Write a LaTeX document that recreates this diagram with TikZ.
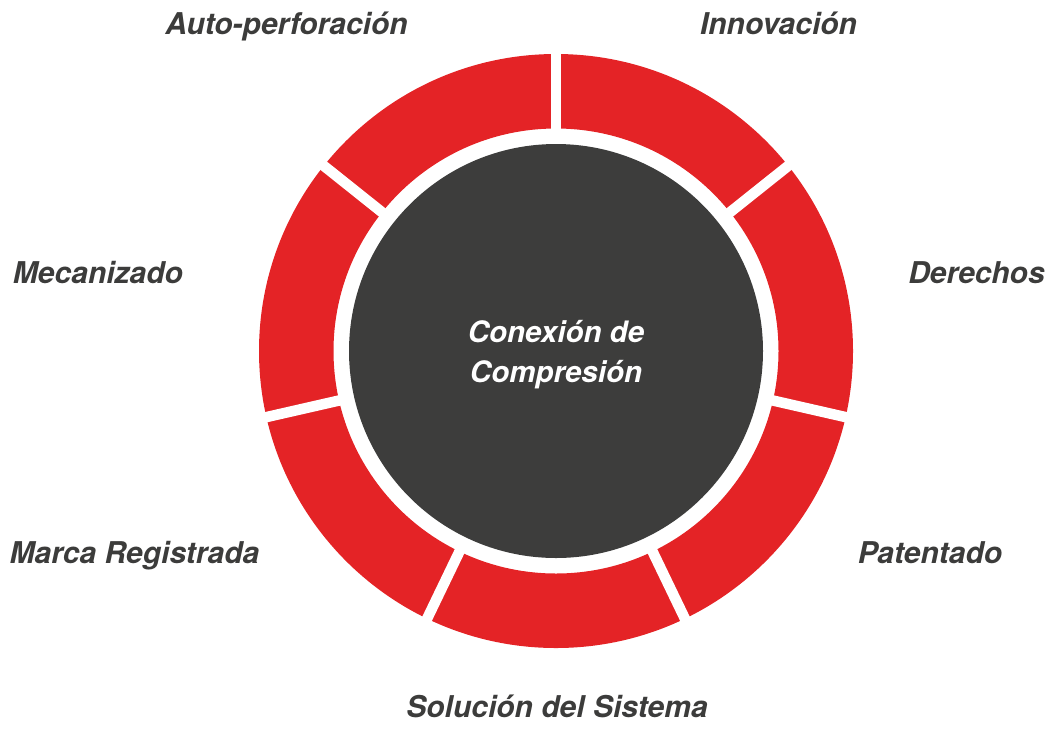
\documentclass[tikz,border=0pt]{standalone}
\usepackage{fontspec}
\setmainfont{TeX Gyre Heros}
\usetikzlibrary{calc}
\definecolor{ringred}{HTML}{E42326}
\definecolor{coredark}{HTML}{3D3D3C}
\definecolor{labelgray}{HTML}{3C3C3B}
\begin{document}
\begin{tikzpicture}[x=1pt,y=-1pt,
  lbl/.style={anchor=base,inner sep=0pt,text=labelgray,font=\fontsize{30}{36}\selectfont\bfseries\itshape},
  gapline/.style={draw=white,line width=10.5pt}]
\useasboundingbox (0,0) rectangle (1051,729);
\coordinate (c) at (556,351);
% red ring
\fill[ringred,even odd rule] (c) circle[radius=297] (c) circle[radius=222.5];
% white gaps
\foreach \k in {0,...,6}{
  \draw[gapline] ($(c)+({-90+\k*360/7}:212)$) -- ($(c)+({-90+\k*360/7}:305)$);
}
% core
\fill[coredark] (c) circle[radius=207];
\node[anchor=base,inner sep=0pt,text=white,align=center,
      font=\fontsize{29.5}{40}\selectfont\bfseries\itshape] (core) at (556,382) {Conexión de\\Compresión};
% labels
\node[lbl] (l1) at (286.5,34) {Auto-perforación};
\node[lbl] (l2) at (778.5,34) {Innovación};
\node[lbl] (l3) at (98,283) {Mecanizado};
\node[lbl] (l4) at (976.5,283) {Derechos};
\node[lbl] (l5) at (134.5,563) {Marca Registrada};
\node[lbl] (l6) at (930,563) {Patentado};
\node[lbl] (l7) at (557,717) {Solución del Sistema};
\end{tikzpicture}
\end{document}
